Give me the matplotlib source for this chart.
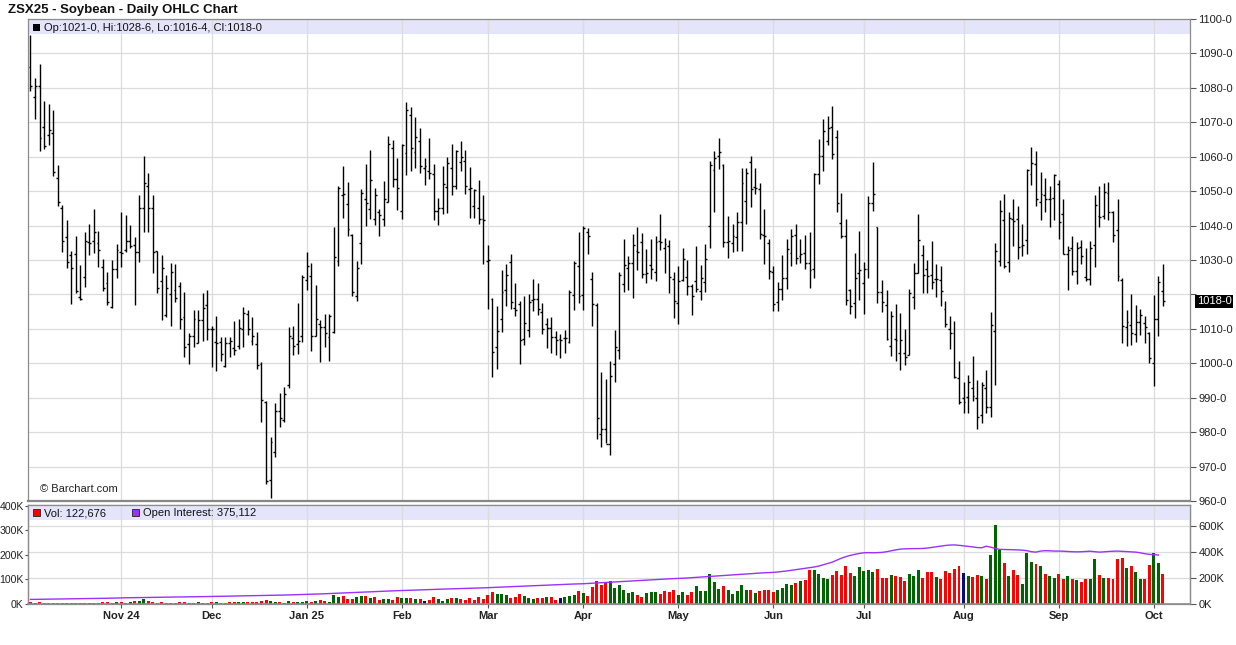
import matplotlib as mpl
import matplotlib.pyplot as plt
import numpy as np
import pandas as pd
from matplotlib.collections import LineCollection
from matplotlib.patches import Rectangle
from matplotlib.transforms import blended_transform_factory

mpl.use("Agg")
plt.rcParams["font.family"] = ["Liberation Sans", "DejaVu Sans"]

# trading calendar (CBOT holidays)
holidays = ["2024-11-28", "2024-12-25", "2025-01-01", "2025-01-20", "2025-02-17",
            "2025-04-18", "2025-05-26", "2025-06-19", "2025-07-04", "2025-09-01"]
dates = pd.bdate_range("2024-10-04", "2025-10-03", freq="C", holidays=holidays)
month_labels = ["Nov 24", "Dec", "Jan 25", "Feb", "Mar", "Apr", "May", "Jun",
                "Jul", "Aug", "Sep", "Oct"]

opens = [
    1086.1, 1077.2, 1080.6, 1068.7, 1066.2, 1067.0, 1053.8, 1045.0, 1036.8, 1031.4,
    1031.7, 1019.3, 1025.1, 1035.2, 1035.5, 1035.0, 1028.0, 1023.4, 1016.4, 1027.4,
    1032.4, 1033.0, 1035.4, 1034.4, 1032.2, 1045.0, 1051.4, 1045.0, 1032.6, 1024.0,
    1014.0, 1020.0, 1021.4, 1022.4, 1013.5, 1005.7, 1008.0, 1006.0, 1012.6, 1016.9,
    1010.0, 1006.2, 1006.2, 999.2, 1006.0, 1004.4, 1005.0, 1010.0, 1014.4, 1006.4,
    1005.6, 999.7, 988.9, 966.0, 974.2, 986.0, 983.5, 993.7, 1007.3, 1005.5,
    1007.9, 1024.3, 1025.4, 1008.0, 1011.3, 1010.5, 1007.5, 1009.1, 1029.8, 1049.0,
    1046.4, 1037.3, 1019.4, 1035.0, 1047.8, 1044.9, 1042.0, 1044.0, 1042.0, 1046.9,
    1062.4, 1053.5, 1044.2, 1061.0, 1072.1, 1061.5, 1064.6, 1056.7, 1055.9, 1054.9,
    1044.1, 1045.0, 1051.2, 1056.7, 1051.4, 1058.5, 1058.8, 1050.7, 1045.7, 1045.0,
    1041.8, 1029.6, 1018.6, 1004.8, 1012.8, 1021.2, 1029.3, 1016.2, 1017.1, 1007.1,
    1009.6, 1018.4, 1018.8, 1014.9, 1011.5, 1010.3, 1007.7, 1007.0, 1007.4, 1006.2,
    1019.8, 1028.3, 1019.8, 1038.0, 1024.6, 1016.8, 979.5, 981.0, 976.7, 999.9,
    1004.0, 1023.1, 1027.8, 1029.1, 1032.5, 1035.1, 1025.9, 1028.5, 1026.4, 1035.6,
    1033.6, 1034.1, 1024.6, 1017.6, 1024.1, 1025.2, 1022.5, 1023.9, 1021.0, 1023.6,
    1039.9, 1056.1, 1060.3, 1057.7, 1035.3, 1034.9, 1036.8, 1040.9, 1047.2, 1058.5,
    1051.1, 1050.6, 1037.2, 1035.0, 1026.6, 1017.8, 1021.5, 1024.9, 1032.1, 1037.2,
    1031.2, 1031.9, 1029.2, 1027.3, 1055.0, 1060.3, 1064.7, 1068.5, 1065.6, 1040.7,
    1037.0, 1021.3, 1017.6, 1026.3, 1023.2, 1027.3, 1046.5, 1039.6, 1020.7, 1016.9,
    1005.1, 1007.1, 1003.0, 1003.0, 1002.5, 1019.3, 1026.3, 1031.4, 1027.3, 1025.5,
    1024.4, 1024.3, 1015.7, 1009.9, 1008.7, 995.8, 989.8, 990.3, 992.7, 989.8,
    985.1, 992.7, 987.4, 1009.4, 1029.6, 1041.6, 1029.3, 1042.0, 1042.0, 1034.0,
    1035.9, 1054.9, 1057.8, 1046.9, 1049.0, 1047.6, 1048.0, 1052.1, 1043.5, 1031.6,
    1033.5, 1026.9, 1033.8, 1025.2, 1024.5, 1034.5, 1042.7, 1042.9, 1049.5, 1043.9,
    1038.6, 1024.3, 1010.5, 1011.2, 1008.5, 1012.1, 1011.7, 1008.9, 1000.0, 1012.8, 1021.0,
]
highs = [
    1095.4, 1083.0, 1086.9, 1076.2, 1075.2, 1073.6, 1057.7, 1046.0, 1041.7, 1032.7,
    1037.0, 1028.5, 1038.0, 1040.5, 1044.8, 1038.3, 1030.3, 1026.6, 1030.0, 1034.6,
    1043.8, 1043.0, 1040.2, 1036.8, 1049.0, 1060.3, 1055.3, 1049.0, 1032.7, 1031.4,
    1025.6, 1029.0, 1028.7, 1023.7, 1020.6, 1008.9, 1015.6, 1015.4, 1020.3, 1021.2,
    1010.8, 1013.8, 1007.6, 1007.6, 1007.6, 1012.2, 1013.0, 1016.4, 1015.4, 1013.5,
    1009.1, 1000.5, 989.1, 978.7, 988.5, 991.4, 993.2, 1010.5, 1010.8, 1017.5,
    1025.7, 1032.4, 1029.2, 1022.8, 1012.6, 1014.4, 1014.4, 1039.6, 1051.5, 1057.2,
    1052.7, 1037.6, 1029.8, 1050.6, 1057.8, 1061.9, 1051.0, 1044.7, 1053.0, 1066.1,
    1064.8, 1059.6, 1063.7, 1076.0, 1074.4, 1071.6, 1068.2, 1059.6, 1065.3, 1057.8,
    1048.0, 1057.4, 1060.0, 1063.7, 1061.9, 1064.5, 1061.9, 1056.9, 1050.6, 1053.3,
    1048.8, 1034.5, 1018.9, 1016.5, 1027.0, 1028.8, 1031.7, 1023.2, 1018.1, 1019.6,
    1020.0, 1024.4, 1023.2, 1017.6, 1013.1, 1013.3, 1009.4, 1008.6, 1009.6, 1021.2,
    1029.7, 1038.0, 1039.9, 1039.4, 1026.4, 1017.6, 997.5, 995.3, 1000.8, 1009.6,
    1026.4, 1036.1, 1031.2, 1037.5, 1039.6, 1037.8, 1033.1, 1036.1, 1037.0, 1043.3,
    1036.5, 1035.9, 1026.4, 1028.3, 1033.4, 1029.9, 1023.0, 1034.1, 1028.6, 1034.6,
    1058.8, 1061.8, 1065.4, 1057.9, 1042.8, 1040.4, 1044.0, 1056.6, 1056.6, 1060.1,
    1056.6, 1052.5, 1044.8, 1036.2, 1028.3, 1023.6, 1031.5, 1036.0, 1038.9, 1040.4,
    1036.2, 1037.2, 1038.2, 1055.4, 1065.1, 1071.0, 1071.9, 1074.6, 1067.8, 1049.6,
    1041.8, 1021.7, 1031.9, 1038.4, 1029.4, 1048.6, 1058.5, 1039.6, 1024.1, 1021.2,
    1015.1, 1017.1, 1014.5, 1010.0, 1021.7, 1029.0, 1043.3, 1034.3, 1029.9, 1035.5,
    1028.7, 1028.2, 1018.2, 1013.8, 1012.3, 1000.7, 994.5, 996.6, 1002.1, 995.1,
    994.5, 998.1, 1014.9, 1035.0, 1047.3, 1049.3, 1043.9, 1047.6, 1045.8, 1040.6,
    1056.5, 1062.8, 1061.8, 1055.6, 1053.9, 1051.5, 1054.9, 1053.1, 1047.6, 1034.2,
    1037.1, 1035.1, 1035.9, 1033.5, 1035.6, 1049.0, 1051.5, 1052.4, 1052.7, 1044.2,
    1047.6, 1024.8, 1015.5, 1020.2, 1017.0, 1015.8, 1013.8, 1009.2, 1019.9, 1025.4, 1028.75,
]
lows = [
    1079.1, 1071.0, 1061.6, 1062.1, 1063.5, 1054.3, 1045.8, 1032.4, 1027.8, 1017.2,
    1020.3, 1018.3, 1022.2, 1031.5, 1032.0, 1028.0, 1021.0, 1016.9, 1016.1, 1024.8,
    1028.0, 1032.4, 1033.4, 1016.9, 1029.5, 1038.2, 1038.2, 1026.1, 1020.3, 1012.5,
    1013.5, 1010.8, 1017.8, 1010.0, 1001.8, 999.7, 1004.7, 1005.9, 1006.6, 1006.8,
    998.9, 997.9, 1000.8, 998.9, 1001.8, 1002.3, 1004.2, 1004.7, 1008.1, 1005.2,
    998.4, 983.0, 964.8, 960.9, 972.7, 981.6, 982.9, 992.7, 1002.3, 1002.7,
    1006.3, 1021.2, 1003.7, 1008.0, 1000.4, 1004.8, 1000.7, 1008.9, 1028.4, 1042.1,
    1036.9, 1019.6, 1018.0, 1028.7, 1040.0, 1041.8, 1040.3, 1036.9, 1039.8, 1046.8,
    1051.2, 1044.5, 1042.0, 1054.7, 1055.9, 1056.6, 1055.4, 1051.7, 1053.5, 1041.6,
    1040.3, 1043.5, 1043.7, 1048.8, 1050.7, 1055.9, 1049.3, 1042.3, 1042.3, 1040.5,
    1028.7, 1015.7, 995.9, 998.2, 1009.2, 1016.6, 1015.9, 1013.7, 999.9, 1005.3,
    1007.6, 1015.2, 1014.0, 1008.6, 1004.5, 1003.1, 1002.4, 1001.6, 1003.1, 1006.0,
    1015.5, 1017.6, 1015.5, 1031.7, 1010.8, 978.0, 975.6, 976.9, 973.3, 994.5,
    1001.3, 1020.7, 1021.3, 1018.9, 1027.0, 1024.9, 1023.2, 1024.6, 1023.9, 1032.9,
    1026.2, 1020.3, 1013.1, 1011.3, 1023.9, 1019.8, 1013.9, 1020.7, 1018.3, 1020.7,
    1033.4, 1044.0, 1056.4, 1033.8, 1030.7, 1032.4, 1032.7, 1032.6, 1040.6, 1045.5,
    1049.1, 1036.2, 1028.9, 1024.4, 1015.1, 1015.1, 1018.3, 1021.7, 1028.3, 1028.7,
    1029.0, 1027.3, 1021.9, 1024.9, 1052.0, 1055.9, 1063.5, 1059.3, 1044.0, 1036.5,
    1016.9, 1014.2, 1013.2, 1018.5, 1014.2, 1024.9, 1044.3, 1017.6, 1014.9, 1006.9,
    1002.0, 1000.8, 998.0, 999.6, 1002.5, 1015.8, 1026.1, 1020.5, 1020.3, 1021.7,
    1019.3, 1016.5, 1010.5, 1004.2, 995.6, 988.3, 985.6, 985.6, 989.0, 981.0,
    982.7, 985.6, 984.3, 993.7, 1028.2, 1027.7, 1026.4, 1034.2, 1030.3, 1031.1,
    1031.8, 1051.7, 1045.6, 1041.6, 1043.9, 1039.6, 1041.7, 1036.1, 1031.6, 1021.2,
    1025.7, 1023.1, 1028.9, 1023.8, 1022.6, 1028.0, 1039.6, 1041.9, 1041.7, 1035.1,
    1023.8, 1006.0, 1004.9, 1005.3, 1006.3, 1008.3, 1005.8, 1000.2, 993.4, 1008.0, 1016.5,
]
closes = [
    1080.6, 1080.6, 1065.5, 1063.2, 1067.9, 1055.6, 1046.8, 1035.5, 1029.5, 1027.6,
    1021.0, 1018.8, 1035.5, 1035.0, 1038.0, 1032.9, 1021.8, 1017.7, 1027.4, 1033.0,
    1032.0, 1035.4, 1034.0, 1032.2, 1045.0, 1052.4, 1045.0, 1032.2, 1022.0, 1027.8,
    1022.0, 1026.6, 1019.0, 1013.0, 1004.7, 1008.0, 1012.9, 1012.7, 1016.0, 1010.0,
    1010.1, 1006.0, 1002.7, 1006.0, 1006.4, 1004.0, 1010.3, 1014.7, 1010.0, 1008.0,
    999.5, 989.2, 965.8, 977.2, 986.2, 984.0, 991.0, 1008.0, 1005.0, 1006.6,
    1025.2, 1028.2, 1008.0, 1012.8, 1010.5, 1008.7, 1013.8, 1030.9, 1051.0, 1049.3,
    1039.1, 1020.7, 1027.7, 1049.6, 1046.7, 1053.2, 1048.8, 1043.2, 1047.6, 1063.7,
    1053.5, 1051.0, 1063.5, 1073.6, 1062.4, 1065.8, 1057.4, 1057.4, 1055.4, 1044.1,
    1045.2, 1052.0, 1058.1, 1051.4, 1061.6, 1060.0, 1051.5, 1051.0, 1050.3, 1041.8,
    1041.5, 1029.9, 1003.2, 1009.4, 1020.7, 1025.6, 1017.8, 1015.5, 1006.8, 1011.8,
    1017.9, 1018.6, 1015.7, 1010.1, 1010.3, 1007.7, 1006.7, 1006.7, 1007.2, 1020.7,
    1029.1, 1019.4, 1039.3, 1037.0, 1017.1, 984.2, 981.0, 976.6, 996.2, 1004.8,
    1025.6, 1028.5, 1029.2, 1034.3, 1032.4, 1025.9, 1026.1, 1027.5, 1035.3, 1035.1,
    1034.6, 1025.2, 1018.1, 1023.9, 1030.4, 1022.5, 1019.4, 1021.7, 1024.9, 1030.4,
    1057.6, 1059.5, 1061.3, 1035.3, 1035.4, 1037.0, 1040.9, 1052.3, 1055.2, 1050.6,
    1050.8, 1037.5, 1037.0, 1026.8, 1017.1, 1021.5, 1024.9, 1033.3, 1037.0, 1030.7,
    1031.7, 1029.2, 1027.1, 1055.0, 1060.3, 1067.6, 1068.3, 1060.8, 1046.7, 1037.0,
    1018.5, 1016.6, 1024.7, 1027.1, 1027.3, 1046.5, 1049.3, 1020.7, 1017.8, 1007.1,
    1013.7, 1006.9, 1006.8, 1001.7, 1020.5, 1026.3, 1035.7, 1025.5, 1025.4, 1023.7,
    1024.6, 1020.9, 1011.4, 1008.9, 995.9, 988.8, 988.8, 994.5, 990.6, 984.5,
    993.7, 987.4, 1011.2, 1032.7, 1044.2, 1028.2, 1042.2, 1041.3, 1033.7, 1034.3,
    1056.0, 1058.3, 1047.6, 1049.3, 1047.6, 1047.8, 1054.6, 1041.0, 1031.6, 1033.0,
    1026.9, 1033.5, 1031.3, 1024.5, 1033.5, 1046.1, 1042.5, 1049.7, 1043.9, 1037.4,
    1025.4, 1010.7, 1011.9, 1008.7, 1012.1, 1013.9, 1010.4, 1001.5, 1012.8, 1023.6, 1018.0,
]

# daily volume, thousands of contracts
volume_k = [
    8, 3, 8, 4, 4, 4, 4, 4, 4, 4,
    4, 4, 4, 4, 3, 4, 8, 8, 5, 8,
    8, 5, 8, 12, 13, 20, 12, 7, 4, 8,
    5, 4, 4, 8, 8, 5, 4, 8, 5, 4,
    8, 8, 5, 4, 8, 8, 8, 8, 8, 8,
    8, 12, 16, 12, 8, 8, 4, 12, 8, 8,
    8, 12, 8, 12, 16, 12, 8, 36, 28, 32,
    20, 20, 28, 32, 32, 25, 28, 16, 20, 20,
    16, 28, 24, 24, 24, 20, 19, 12, 16, 28,
    20, 12, 20, 24, 24, 20, 16, 24, 16, 28,
    20, 36, 48, 40, 40, 36, 24, 28, 40, 32,
    24, 20, 24, 24, 28, 28, 16, 24, 28, 32,
    36, 52, 44, 32, 68, 92, 76, 87, 92, 64,
    76, 56, 44, 48, 36, 28, 44, 48, 48, 40,
    52, 48, 56, 36, 48, 36, 48, 72, 52, 52,
    124, 88, 60, 72, 56, 40, 52, 76, 56, 56,
    44, 52, 56, 56, 48, 56, 64, 80, 76, 84,
    92, 96, 140, 140, 124, 108, 100, 120, 136, 120,
    156, 128, 116, 152, 136, 140, 132, 144, 108, 108,
    120, 116, 112, 92, 124, 116, 140, 108, 132, 132,
    112, 100, 136, 128, 144, 156, 128, 116, 112, 120,
    116, 100, 200, 324, 220, 168, 116, 140, 120, 80,
    208, 172, 164, 156, 124, 116, 108, 124, 100, 116,
    104, 96, 88, 100, 104, 184, 120, 108, 108, 100,
    184, 188, 148, 156, 132, 104, 104, 160, 208, 168, 122.676,
]
# r = down day, g = up day, b = unchanged
volume_dir = (
    "rbrrrrrrrr" "rrgggrrrgg" "rggrggrrrr" "ggrrrggggr" "rgrgrrggrr"
    "rrrggrggrg" "ggrgrrgggr" "rrggrgrrgg" "rrggrgrbrr" "gggrgrrrrr"
    "rrrgggrrrg" "ggrrgrrbgg" "grgrrrrrgg" "ggggrrgggr" "rrrggrrggg"
    "gggrgggggr" "grrrrggggr" "grrggggrrr" "rrgggggrrr" "grrrgggrrr"
    "grrrrrbgrr" "grgggrgrrg" "ggrgrggrrg" "rgrrggrgrr" "rrgrggrrggr"
)

# open interest, thousands (one day behind the volume)
open_interest_k = [
    35, 35.5, 36, 36.5, 37, 37.5, 38, 38.5, 39, 39.5, 40, 40.5, 41, 41.5, 42, 42.5,
    43.5, 44, 45, 46, 47,
    47.5, 48, 48.5, 49, 49.5, 50, 50.5, 51, 51.5, 52, 52.5, 53, 53.5, 54, 54.5, 55,
    55.5, 56.5, 57, 58,
    58.5, 59, 60, 60.5, 61, 62, 62.5, 63, 64, 64.5, 65, 66, 66.5, 67, 68, 68.5, 69.5,
    70, 71, 72, 73,
    74, 75.5, 77, 78.5, 80, 81.5, 83, 84.5, 86, 87.5, 89, 90.5, 92, 93.5, 95, 96.5,
    98, 99.5, 101, 102, 103,
    104, 105, 106.5, 108, 109, 110, 111.5, 113, 114, 115, 116.5, 117.5, 118.5, 119.5,
    120.5, 121.5, 122.5, 123.5, 125,
    126.5, 128, 129.5, 131, 132.5, 134, 135.5, 137, 138.5, 140, 141.5, 143, 144.5,
    146, 147.5, 149, 150.5, 152, 153, 154, 155,
    157, 159, 161, 163, 165, 167, 169, 171, 173, 175, 177, 179, 181, 183, 185, 187,
    189, 191, 192.5, 194, 195,
    197, 199, 201.5, 204, 206, 208.5, 211, 213, 215.5, 218, 220, 222.5, 225, 227,
    229.5, 232, 234, 236.5, 239, 240.5, 242,
    245, 249, 253, 258, 263, 268, 273, 278, 283, 290, 300, 310, 320, 335, 350, 362,
    372, 380, 387, 392,
    393, 392, 393, 395, 400, 407, 414, 420, 422, 423, 424, 424, 425, 428, 433, 438,
    443, 448, 451, 452, 449, 445,
    441, 437, 432, 430, 442, 435, 425, 418, 417, 416, 415, 414, 412, 408, 400, 397,
    405, 408, 407, 405, 405,
    404, 402, 400, 399, 400, 402, 404, 400, 397, 399, 402, 404, 405, 403, 401, 399,
    397, 392, 385, 380, 377, 375.112,
]


def price_fmt(v):
    whole = int(np.floor(v + 1e-9))
    eighths = int(round((v - whole) * 8))
    return f"{whole}-{eighths}"


n = len(closes)
x = np.arange(n)
month_pos = [i for i in range(1, len(dates)) if dates[i].month != dates[i - 1].month]

W, H = 1236, 645
GRID = "#dcdcdc"
SPINE = "#8c8c8c"
BAND = "#e4e4fa"
fig = plt.figure(figsize=(W / 100, H / 100), dpi=100)
left, right = 28, 1190
ax_p = fig.add_axes([left / W, 1 - 501 / H, (right - left) / W, (501 - 19) / H])
ax_v = fig.add_axes([left / W, 1 - 604 / H, (right - left) / W, (604 - 505) / H])
ax_o = ax_v.twinx()
ax_o.set_zorder(1)
ax_v.set_zorder(2)
ax_v.patch.set_visible(False)

xlim = (-0.55, 256)

# ---- price panel
tick = 0.42
segs = []
for i in range(n):
    segs.append([(x[i], lows[i]), (x[i], highs[i])])
    segs.append([(x[i] - tick, opens[i]), (x[i], opens[i])])
    segs.append([(x[i], closes[i]), (x[i] + tick, closes[i])])
ax_p.add_collection(LineCollection(segs, colors="black", linewidths=1.0, zorder=3))
ax_p.set_xlim(*xlim)
ax_p.set_ylim(960, 1100)
ax_p.set_axisbelow(True)
ax_p.set_yticks(np.arange(960, 1101, 10))
ax_p.set_xticks(month_pos)
ax_p.grid(True, color=GRID, lw=0.9)
ax_p.yaxis.tick_right()
last = closes[-1]
ax_p.yaxis.set_major_formatter(
    lambda v, pos: "" if abs(v - last) < 3 else price_fmt(v))
ax_p.tick_params(axis="y", direction="out", length=4, width=0.8, color="#555",
                 labelsize=8, pad=2, labelcolor="#222")
ax_p.tick_params(axis="x", length=0, labelbottom=False)
for side in ["left", "right", "top"]:
    ax_p.spines[side].set_color(SPINE)
    ax_p.spines[side].set_linewidth(0.9)
ax_p.spines["bottom"].set_color("#888888")
ax_p.spines["bottom"].set_linewidth(1.6)

ax_p.add_patch(Rectangle((0, 1 - 15 / 482), 1, 15 / 482, transform=ax_p.transAxes,
                         facecolor=BAND, edgecolor="none", zorder=0.1))
fig.add_artist(Rectangle((33 / W, 1 - 31 / H), 7 / W, 7 / H, transform=fig.transFigure,
                         facecolor="black", edgecolor="none", zorder=10))
fig.text(44 / W, 1 - 31 / H,
         f"Op:{price_fmt(opens[-1])}, Hi:{price_fmt(highs[-1])}, "
         f"Lo:{price_fmt(lows[-1])}, Cl:{price_fmt(closes[-1])}",
         fontsize=8, va="baseline", ha="left", color="#111", zorder=10)
ax_p.text(12 / 1162, 9 / 482, "\u00a9 Barchart.com", transform=ax_p.transAxes,
          fontsize=8, color="#222", va="baseline", ha="left")

tr = blended_transform_factory(ax_p.transAxes, ax_p.transData)
ax_p.text(1 + 7 / 1162, last, price_fmt(last), transform=tr, color="white",
          fontsize=8, va="center", ha="left",
          bbox=dict(facecolor="black", edgecolor="none", pad=1.2))

fig.text(8 / W, 1 - 13 / H, "ZSX25 - Soybean - Daily OHLC Chart",
         fontsize=9.5, fontweight="bold", va="baseline", ha="left", color="#111")

# ---- volume / open interest panel
col_map = {"r": "#ff0000", "g": "#006400", "b": "#0a0a80"}
ax_v.bar(x, np.array(volume_k) * 1000, width=0.66,
         color=[col_map[c] for c in volume_dir], linewidth=0, zorder=2)
ax_v.plot(np.arange(len(open_interest_k)), np.array(open_interest_k) * 1000,
          color="#9b30ff", lw=1.0, transform=ax_o.transData, zorder=3)
ax_v.set_xlim(*xlim)
ax_v.set_ylim(0, 400_000 * 100 / 99)
ax_o.set_ylim(0, 750_000 * 100 / 99)
ax_v.set_yticks(np.arange(0, 400_001, 100_000))
ax_v.set_yticklabels([f"{int(v / 1000)}K" for v in np.arange(0, 400_001, 100_000)])
ax_o.set_yticks(np.arange(0, 600_001, 200_000))
ax_o.set_yticklabels([f"{int(v / 1000)}K" for v in np.arange(0, 600_001, 200_000)])
ax_v.set_axisbelow(True)
ax_v.grid(True, axis="x", color=GRID, lw=0.9)
ax_o.grid(True, axis="y", color=GRID, lw=0.9)
ax_v.set_xticks(month_pos)
ax_v.set_xticklabels(month_labels, fontweight="bold")
ax_v.tick_params(axis="x", direction="out", length=3, width=0.8, color="#555",
                 labelsize=8, pad=2, labelcolor="#222")
ax_v.tick_params(axis="y", direction="out", length=2.5, width=0.8, color="#555",
                 labelsize=7.6, pad=0.5, labelcolor="#222")
ax_o.tick_params(axis="y", direction="out", length=4, width=0.8, color="#555",
                 labelsize=8, pad=2, labelcolor="#222")
for a in (ax_v, ax_o):
    for side in ["left", "right", "top", "bottom"]:
        a.spines[side].set_color(SPINE)
        a.spines[side].set_linewidth(0.9)
ax_v.spines["bottom"].set_linewidth(1.2)

ax_v.add_patch(Rectangle((0, 1 - 15 / 99), 1, 15 / 99, transform=ax_v.transAxes,
                         facecolor=BAND, edgecolor="none", zorder=0.1))
fig.add_artist(Rectangle((33 / W, 1 - 516 / H), 7 / W, 7 / H, transform=fig.transFigure,
                         facecolor="#ff0000", edgecolor="#222", linewidth=0.6, zorder=10))
fig.text(44 / W, 1 - 516 / H, f"Vol: {int(round(volume_k[-1] * 1000)):,}",
         fontsize=8, va="baseline", ha="left", color="#111", zorder=10)
fig.add_artist(Rectangle((132 / W, 1 - 516 / H), 7 / W, 7 / H, transform=fig.transFigure,
                         facecolor="#9b30ff", edgecolor="#222", linewidth=0.6, zorder=10))
fig.text(143 / W, 1 - 516 / H,
         f"Open Interest: {int(round(open_interest_k[-1] * 1000)):,}",
         fontsize=8, va="baseline", ha="left", color="#111", zorder=10)

fig.savefig("out.png", dpi=100, facecolor="white")
